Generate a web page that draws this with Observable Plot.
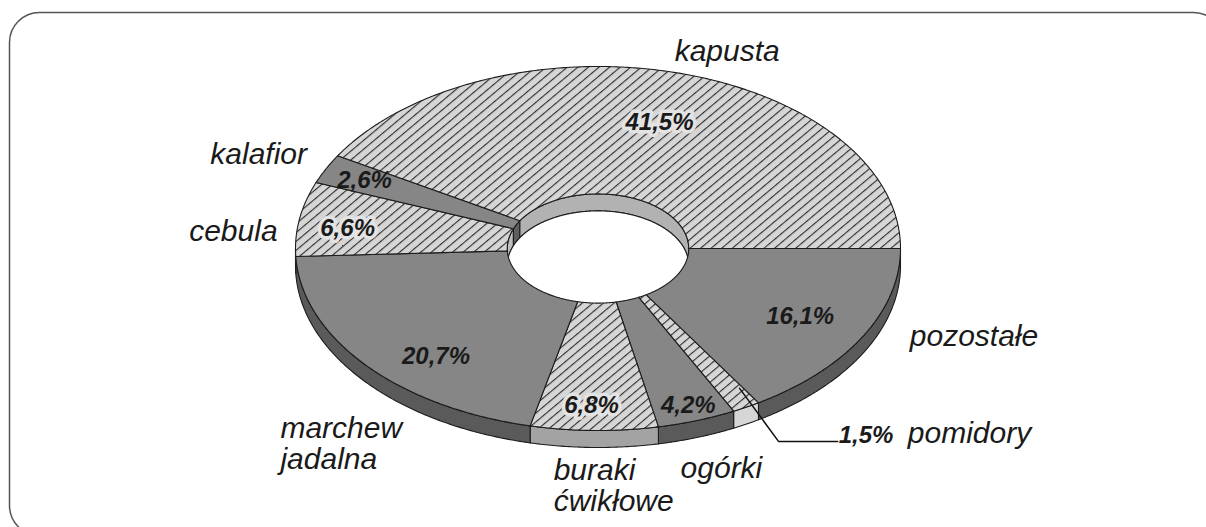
<!DOCTYPE html>
<html><head><meta charset="utf-8">
<script src="https://cdn.jsdelivr.net/npm/d3@7"></script>
<script src="https://cdn.jsdelivr.net/npm/@observablehq/plot@0.6"></script>
<style>html,body{margin:0;padding:0;overflow:hidden;background:#fff}</style>
</head><body><div id="chart"></div>
<script>
// ---- data ----
const categories = ["pozostałe", "pomidory", "ogórki", "buraki\nćwikłowe", "marchew\njadalna", "cebula", "kalafior", "kapusta"];
const values = [16.1, 1.5, 4.2, 6.8, 20.7, 6.6, 2.6, 41.5];

// ---- styles (per category) ----
const DARK_TOP = "#868686", DARK_SIDE = "#5a5a5a";
const sliceStyle = {
  "pozostałe":        {top: DARK_TOP, side: DARK_SIDE, wall: "#606060", hatched: false},
  "pomidory":         {top: "url(#hatch)", side: "#d6d6d6", wall: "#b0b0b0", hatched: true},
  "ogórki":           {top: DARK_TOP, side: DARK_SIDE, wall: "#606060", hatched: false},
  "buraki\nćwikłowe": {top: "url(#hatch)", side: "#a3a3a3", wall: "#a3a3a3", hatched: true},
  "marchew\njadalna": {top: DARK_TOP, side: DARK_SIDE, wall: "#606060", hatched: false},
  "cebula":           {top: "url(#hatch)", side: "#bdbdbd", wall: "#bdbdbd", hatched: true},
  "kalafior":         {top: DARK_TOP, side: DARK_SIDE, wall: "#5e5e5e", hatched: false},
  "kapusta":          {top: "url(#hatch)", side: "#b2b2b2", wall: "#b2b2b2", hatched: true}
};

// ---- layout ----
const W = 1206, H = 527;
const CX = 597.5, CY = 248, RX = 302.5, RY = 182, DEPTH = 17, HOLE = 0.3;
// label placement: [angle offset from slice middle (deg), radius factor, text anchor]
const pctLayout = {
  "pozostałe": [0, 0.764, "middle"], "pomidory": [-8.4, 1.30, "start"], "ogórki": [0, 0.913, "middle"],
  "buraki\nćwikłowe": [0.7, 0.863, "middle"], "marchew\njadalna": [-8.2, 0.80, "middle"],
  "cebula": [-1.8, 0.835, "middle"], "kalafior": [0, 0.858, "middle"], "kapusta": [1.1, 0.72, "middle"]
};
const nameLayout = {
  "pozostałe": [-7.8, 1.333, "middle"], "pomidory": [-16, 1.44, "start"], "ogórki": [0.4, 1.274, "middle"],
  "buraki\nćwikłowe": [5.7, 1.31, "start"], "marchew\njadalna": [-5.8, 1.50, "start"],
  "cebula": [-4.9, 1.209, "middle"], "kalafior": [-1.1, 1.236, "middle"], "kapusta": [6.2, 1.165, "middle"]
};

// ---- geometry derived from the values ----
const rad = d => d * Math.PI / 180;
const P = (deg, r, dz = 0) => [CX + RX * r * Math.cos(rad(deg)), CY + RY * r * Math.sin(rad(deg)) + dz];
function arc(a0, a1, r, dz) {
  const n = Math.max(2, Math.ceil(Math.abs(a1 - a0) * 2));
  return d3.range(n + 1).map(i => P(a0 + (a1 - a0) * i / n, r, dz));
}
const total = d3.sum(values);
let acc = 0;
const slices = categories.map((c, i) => {
  const a0 = acc / total * 360; acc += values[i]; const a1 = acc / total * 360;
  return {c, v: values[i], a0, a1, mid: (a0 + a1) / 2, ...sliceStyle[c]};
});

const sides = [], walls = [], tops = [];
slices.forEach((s, i) => {
  const b0 = Math.max(s.a0, 0), b1 = Math.min(s.a1, 180);
  if (b1 > b0) [...arc(b0, b1, 1, 0), ...arc(b1, b0, 1, DEPTH)].forEach(([x, y]) => sides.push({id: i, x, y, fill: s.side}));
  const w0 = Math.max(s.a0, 180), w1 = Math.min(s.a1, 360);
  if (w1 > w0) [...arc(w0, w1, HOLE, 0), ...arc(w1, w0, HOLE, DEPTH)].forEach(([x, y]) => walls.push({id: i, x, y, fill: s.wall}));
  [...arc(s.a0, s.a1, 1, 0), ...arc(s.a1, s.a0, HOLE, 0)].forEach(([x, y]) => tops.push({id: i, x, y, fill: s.top}));
});
const hole = arc(0, 360, HOLE, DEPTH).map(([x, y]) => ({x, y}));

const fmt = v => v.toFixed(1).replace(".", ",") + "%";
const pctLabels = slices.map(s => {
  const [off, r, anchor] = pctLayout[s.c];
  const [x, y] = P(s.mid + off, r);
  return {x, y, text: fmt(s.v), anchor, halo: s.hatched && r < 1};
});
const nameLabels = slices.map(s => {
  const [off, r, anchor] = nameLayout[s.c];
  const [x, y] = P(s.mid + off, r);
  return {x, y, text: s.c, anchor};
});
// leader line for the narrow slice labelled outside
const leaders = [];
pctLabels.forEach((l, i) => {
  if (pctLayout[slices[i].c][1] > 1) {
    const s = slices[i];
    const [x0, y0] = P(s.mid - 2, 0.9);
    leaders.push({id: i, x: x0, y: y0}, {id: i, x: l.x - 60, y: l.y + 6}, {id: i, x: l.x - 1, y: l.y + 6});
  }
});

const STROKE = "#1c1c1c";
const pctText = {x: "x", y: "y", text: "text", fontSize: 24, fontWeight: "bold", fontStyle: "italic", fill: "#1a1a1a", lineAnchor: "middle"};
const nameText = {x: "x", y: "y", text: "text", fontSize: 30, fontStyle: "italic", fill: "#1a1a1a", lineAnchor: "middle", lineHeight: 1.05};

const svg = Plot.plot({
  width: W, height: H, margin: 0,
  x: {domain: [0, W], range: [0, W], axis: null},
  y: {domain: [0, H], range: [0, H], axis: null},
  color: {type: "identity"},
  style: {fontFamily: "'Liberation Sans', Arial, sans-serif", background: "#fff"},
  marks: [
    Plot.frame({rx: 30, stroke: "#555", strokeWidth: 1.5, insetLeft: 9, insetTop: 12, insetRight: -17, insetBottom: -8}),
    Plot.line(sides, {x: "x", y: "y", z: "id", fill: "fill", stroke: STROKE, strokeWidth: 1.1, curve: "linear-closed"}),
    Plot.line(walls, {x: "x", y: "y", z: "id", fill: "fill", stroke: STROKE, strokeWidth: 1.1, curve: "linear-closed"}),
    Plot.line(hole, {x: "x", y: "y", fill: "#fff", stroke: STROKE, strokeWidth: 1.1, curve: "linear-closed"}),
    Plot.line(tops, {x: "x", y: "y", z: "id", fill: "fill", stroke: STROKE, strokeWidth: 1.1, curve: "linear-closed"}),
    Plot.line(leaders, {x: "x", y: "y", z: "id", stroke: "#111", strokeWidth: 1.5}),
    Plot.text(pctLabels.filter(d => d.halo), {...pctText, textAnchor: "middle", stroke: "#e3e3e3", strokeWidth: 7, strokeLinejoin: "round", paintOrder: "stroke"}),
    Plot.text(pctLabels.filter(d => !d.halo && d.anchor === "middle"), {...pctText, textAnchor: "middle"}),
    Plot.text(pctLabels.filter(d => d.anchor === "start"), {...pctText, textAnchor: "start"}),
    Plot.text(nameLabels.filter(d => d.anchor === "middle"), {...nameText, textAnchor: "middle"}),
    Plot.text(nameLabels.filter(d => d.anchor === "start"), {...nameText, textAnchor: "start"})
  ]
});

// hatch pattern definition
const defs = d3.select(svg).insert("defs", ":first-child");
const pat = defs.append("pattern").attr("id", "hatch").attr("patternUnits", "userSpaceOnUse")
  .attr("width", 20).attr("height", 6.8).attr("patternTransform", "rotate(-40)");
pat.append("rect").attr("width", 20).attr("height", 6.8).attr("fill", "#d6d6d6");
pat.append("line").attr("x1", 0).attr("x2", 20).attr("y1", 0.6).attr("y2", 0.6).attr("stroke", "#1a1a1a").attr("stroke-width", 1);

document.getElementById("chart").appendChild(svg);
</script>
</body></html>
